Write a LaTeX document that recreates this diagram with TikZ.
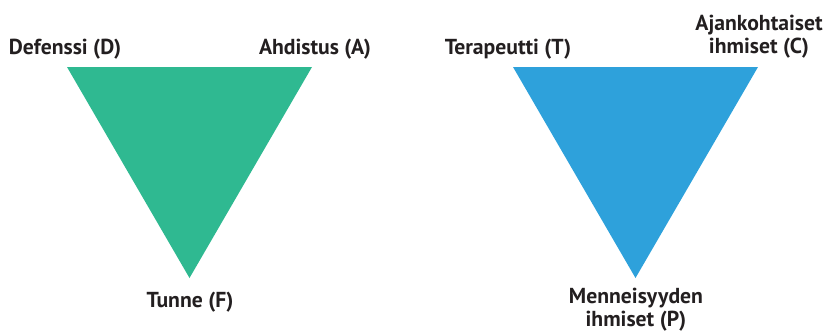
\documentclass[tikz,border=0pt]{standalone}
\usepackage{fontspec}
\setmainfont{PT Sans}
\usetikzlibrary{positioning}
\definecolor{TriGreen}{HTML}{2FB991}
\definecolor{TriBlue}{HTML}{2EA1DB}
\definecolor{LabelInk}{HTML}{231F20}

\begin{document}
\begin{tikzpicture}[x=0.03cm,y=-0.03cm,
    every node/.style={font=\bfseries\fontsize{18.5}{19}\selectfont,text=LabelInk,inner sep=0pt},
    lbl/.style={anchor=base,align=center}
  ]
    \useasboundingbox (0,0) rectangle (829,331);
    % left triangle: defence / anxiety / feeling
    \coordinate (d) at (67,67);
    \coordinate (a) at (312,67);
    \coordinate (f) at (189.5,278);
    \fill[TriGreen] (d) -- (a) -- (f) -- cycle;
    % right triangle: therapist / current / past
    \coordinate (t) at (513,67);
    \coordinate (c) at (758,67);
    \coordinate (p) at (635.5,278);
    \fill[TriBlue] (t) -- (c) -- (p) -- cycle;

    \node[lbl] (dlab) at (65,54) {Defenssi (D)};
    \node[lbl] (alab) at (315,54) {Ahdistus (A)};
    \node[lbl] (flab) at (190,307) {Tunne (F)};
    \node[lbl] (tlab) at (508,54) {Terapeutti (T)};
    \node[lbl] (clab) at (759,53) {Ajankohtaiset\\ihmiset (C)};
    \node[lbl] (plab) at (636,326) {Menneisyyden\\ihmiset (P)};
\end{tikzpicture}
\end{document}
